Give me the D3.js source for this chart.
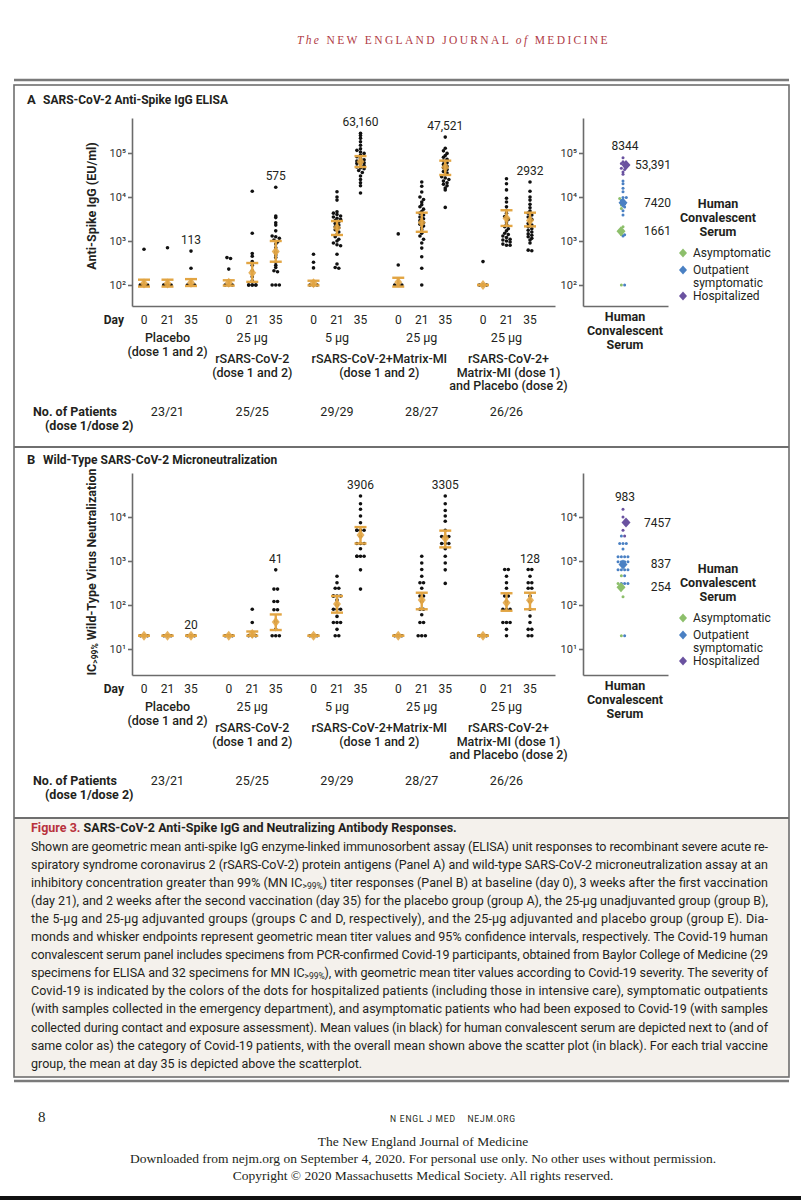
<!DOCTYPE html>
<html>
<head>
<meta charset="utf-8">
<script src="https://cdn.jsdelivr.net/npm/d3@7"></script>
<style>
  body { margin: 0; background: #fff; }
  svg { display: block; }
  text { font-family: Roboto, 'Liberation Sans', sans-serif; fill: #231f20; }
  .serif { font-family: 'Liberation Serif', 'DejaVu Serif', serif; }
  .axis path, .axis line { stroke: #6b6b6b; stroke-width: 1.6; }
  .axis text { font-size: 11px; fill: #333; font-family: Roboto, 'Liberation Sans', sans-serif; }
</style>
</head>
<body>
<div id="chart"></div>
<script>
// ---- data ----
var dayLabels = ["0", "21", "35"];
var doseLabels = ["", "25 \u03bcg", "5 \u03bcg", "25 \u03bcg", "25 \u03bcg"];
var patientCounts = ["23/21", "25/25", "29/29", "28/27", "26/26"];

// Panel A, anti-spike IgG (EU/ml): per group [day 0, day 21, day 35]
var elisaPlacebo = [
  [650, 100, 100, 100, 100],
  [700, 100, 100, 100, 100],
  [590, 240, 100, 100, 100]
];
var elisaRsars = [
  [420, 400, 230, 100, 100, 100],
  [13500, 1500, 520, 450, 340, 280, 210, 154, 125, 100, 100, 100, 100, 100, 100],
  [16700, 3700, 3400, 2600, 2300, 1700, 1300, 1250, 1150, 1050, 950, 850, 700, 560, 480, 420, 330, 280, 250, 210, 200, 100, 100, 100]
];
var elisaMatrix5 = [
  [500, 330, 245, 100, 100, 100],
  [13200, 10000, 8500, 4600, 4300, 4000, 3700, 3500, 3300, 3100, 2900, 2700, 2500, 2300, 2100, 2000, 1800, 1600, 1400, 1250, 1100, 1000, 900, 820, 780, 500, 300, 250, 240],
  [280000, 250000, 215000, 180000, 150000, 125000, 115000, 105000, 98000, 90000, 82000, 75000, 70000, 66000, 64000, 60000, 58000, 56000, 52000, 48000, 46000, 44000, 40000, 36000, 30000, 25000, 21000, 18000, 12300]
];
var elisaMatrix25 = [
  [1450, 285, 100, 100, 100],
  [22000, 17500, 13000, 10000, 8800, 7700, 6700, 6000, 5300, 4700, 4300, 3900, 3500, 3200, 2900, 2600, 2400, 2200, 2000, 1800, 1500, 1300, 1100, 900, 690, 440, 240, 100],
  [230000, 128000, 112000, 98000, 88000, 80000, 72000, 66000, 60000, 55000, 50000, 46000, 42000, 38000, 35000, 32000, 29000, 27000, 25000, 23000, 21000, 19500, 18000, 16000, 14500, 5800]
];
var elisaMatrixPlacebo = [
  [340, 100, 100, 100],
  [26000, 20000, 14500, 9400, 7700, 6000, 5000, 4300, 3600, 3100, 2700, 2400, 2100, 1900, 1700, 1500, 1400, 1300, 1200, 1100, 1050, 1000, 950, 850, 800, 800],
  [22000, 13500, 10000, 8500, 6800, 5700, 4800, 4300, 3900, 3500, 3100, 2800, 2500, 2300, 2100, 1900, 1750, 1600, 1450, 1350, 1250, 1150, 1050, 900, 620, 600]
];
var elisaGmt  = [[108, 108, 113], [112, 190, 575], [110, 2000, 63160], [115, 2650, 47521], [100, 3300, 2932]];
var elisaLow  = [[92, 92, 95], [97, 118, 338], [98, 1370, 48000], [92, 1620, 31700], [100, 2200, 2150]];
var elisaHigh = [[132, 132, 136], [128, 316, 1000], [125, 2840, 85000], [146, 4400, 67000], [100, 5000, 4400]];
var elisaTopLabels = ["113", "575", "63,160", "47,521", "2932"];

// Panel B, MN IC>99% titer: per group [day 0, day 21, day 35]
var mnPlacebo = [[20, 20, 20], [20, 20, 20], [20, 20, 20]];
var mnRsars = [
  [20, 20, 20],
  [80, 40, 20, 20, 20],
  [630, 230, 230, 120, 120, 78, 78, 42, 28, 20, 20, 20]
];
var mnMatrix5 = [
  [20, 20, 20],
  [450, 320, 240, 240, 160, 160, 160, 160, 130, 100, 80, 80, 80, 55, 40, 40, 40, 28, 20, 20],
  [30000, 20000, 15000, 10500, 7400, 5000, 5000, 5000, 5000, 3600, 2500, 2500, 2500, 1900, 1280, 1280, 1280, 1280, 630, 230]
];
var mnMatrix25 = [
  [20, 20, 20],
  [1280, 900, 640, 450, 320, 320, 240, 160, 160, 120, 80, 80, 60, 40, 40, 20, 20, 20],
  [30000, 20000, 14000, 10500, 8000, 5000, 3600, 3600, 3600, 2500, 2500, 2500, 1900, 1280, 900, 630, 310]
];
var mnMatrixPlacebo = [
  [20, 20, 20],
  [640, 640, 450, 320, 240, 160, 160, 120, 80, 80, 80, 40, 40, 40, 28, 20],
  [640, 640, 450, 320, 320, 240, 240, 160, 120, 80, 56, 40, 28, 28, 20, 20]
];
var mnGmt  = [[20, 20, 20], [20, 22, 41], [20, 105, 3906], [20, 130, 3305], [20, 112, 128]];
var mnLow  = [[20, 20, 20], [20, 20, 27], [20, 67, 2500], [20, 80, 2040], [20, 74, 80]];
var mnHigh = [[20, 20, 20], [20, 25, 61], [20, 160, 5900], [20, 190, 4900], [20, 185, 190]];
var mnTopLabels = ["20", "41", "3906", "3305", "128"];

// Human convalescent serum
var severityLabels = ["Asymptomatic", "Outpatient symptomatic", "Hospitalized"];
var severityColors = ["#8dbf6b", "#4a80c3", "#6a52a0"];
var convElisaAsym = [9300, 6600, 5500, 2100, 1400, 100];
var convElisaOut  = [23000, 20000, 15800, 13200, 9800, 9800, 8300, 7400, 6900, 5900, 4900, 3900, 1380, 1300, 100];
var convElisaHosp = [78000, 63000, 58000, 50000, 45000, 42000, 37000, 33000];
var convElisaMeans = [1661, 7420, 53391];
var convElisaOverall = 8344;
var convMnAsym = [460, 310, 250, 155, 20];
var convMnOut  = [3700, 2500, 2500, 2500, 1870, 1250, 1250, 1250, 1250, 960, 960, 960, 960, 800, 630, 630, 630, 630, 460, 310, 310, 310, 20];
var convMnHosp = [15000, 10000, 5000, 3700];
var convMnMeans = [254, 837, 7457];
var convMnOverall = 983;

var captionLines = [
  "Shown are geometric mean anti-spike IgG enzyme-linked immunosorbent assay (ELISA) unit responses to recombinant severe acute re-",
  "spiratory syndrome coronavirus 2 (rSARS-CoV-2) protein antigens (Panel A) and wild-type SARS-CoV-2 microneutralization assay at an",
  ["inhibitory concentration greater than 99% (MN IC", ">99%", ") titer responses (Panel B) at baseline (day 0), 3 weeks after the first vaccination"],
  "(day 21), and 2 weeks after the second vaccination (day 35) for the placebo group (group A), the 25-\u03bcg unadjuvanted group (group B),",
  "the 5-\u03bcg and 25-\u03bcg adjuvanted groups (groups C and D, respectively), and the 25-\u03bcg adjuvanted and placebo group (group E). Dia-",
  "monds and whisker endpoints represent geometric mean titer values and 95% confidence intervals, respectively. The Covid-19 human",
  "convalescent serum panel includes specimens from PCR-confirmed Covid-19 participants, obtained from Baylor College of Medicine (29",
  ["specimens for ELISA and 32 specimens for MN IC", ">99%", "), with geometric mean titer values according to Covid-19 severity. The severity of"],
  "Covid-19 is indicated by the colors of the dots for hospitalized patients (including those in intensive care), symptomatic outpatients",
  "(with samples collected in the emergency department), and asymptomatic patients who had been exposed to Covid-19 (with samples",
  "collected during contact and exposure assessment). Mean values (in black) for human convalescent serum are depicted next to (and of",
  "same color as) the category of Covid-19 patients, with the overall mean shown above the scatter plot (in black). For each trial vaccine",
  "group, the mean at day 35 is depicted above the scatterplot."
];

// ---- drawing ----
var svg = d3.select("#chart").append("svg").attr("width", 801).attr("height", 1200);
var orange = "#e2a543";
var frameColor = "#6f6f6f";
var sup = {1: "\u00b9", 2: "\u00b2", 3: "\u00b3", 4: "\u2074", 5: "\u2075"};

var axisX = 132, convX = 583, convDotX = 623;
var xGroup = d3.scalePoint().domain(d3.range(5)).range([144, 483]);
var xDay = d3.scalePoint().domain(dayLabels).range([0, 47]);

function diamond(cx, cy, w, h) {
  return "M" + cx + "," + (cy - h) + "L" + (cx + w) + "," + cy + "L" + cx + "," + (cy + h) + "L" + (cx - w) + "," + cy + "Z";
}

// spread equal values sideways so they do not hide each other
function spread(items, cx, y, gap, maxRow) {
  var keys = items.map(function(d) { return Math.round(y(d.v) / 3.3); });
  var count = {}, seen = {};
  keys.forEach(function(k) { count[k] = (count[k] || 0) + 1; });
  return items.map(function(d, i) {
    var k = keys[i], n = Math.min(count[k], maxRow);
    var j = seen[k] = (seen[k] === undefined ? 0 : seen[k] + 1);
    return {v: d.v, c: d.c, x: cx + ((j % n) - (n - 1) / 2) * gap, y: y(d.v)};
  });
}

function drawPanel(p) {
  var g = svg.append("g");
  var y = d3.scaleLog().domain(p.domain).range([p.bottom, p.top]);
  var fmt = function(d) { return "10" + sup[Math.round(Math.log10(d))]; };

  // title
  g.append("text").attr("x", 27).attr("y", p.titleY).attr("font-size", 13).attr("font-weight", "bold").text(p.letter);
  g.append("text").attr("x", 43).attr("y", p.titleY).attr("font-size", 12).attr("font-weight", "bold").text(p.title);

  // axes
  g.append("g").attr("class", "axis").attr("transform", "translate(" + axisX + ",0)")
    .call(d3.axisLeft(y).tickValues(p.ticks).tickFormat(fmt).tickSize(4).tickSizeOuter(0).tickPadding(2));
  g.append("g").attr("class", "axis").attr("transform", "translate(0," + p.bottom + ")")
    .call(d3.axisBottom(d3.scaleLinear().range([axisX, 555])).tickValues([]).tickSizeOuter(0));
  g.append("g").attr("class", "axis").attr("transform", "translate(" + convX + ",0)")
    .call(d3.axisLeft(y).tickValues(p.ticks).tickFormat(fmt).tickSize(4).tickSizeOuter(0).tickPadding(2));
  g.append("g").attr("class", "axis").attr("transform", "translate(0," + p.bottom + ")")
    .call(d3.axisBottom(d3.scaleLinear().range([convX, 668])).tickValues([]).tickSizeOuter(0));

  // y label
  var yl = g.append("text").attr("transform", "translate(96," + p.yLabelY + ") rotate(-90)")
    .attr("text-anchor", "middle").attr("font-size", 12.5).attr("font-weight", "bold");
  p.yLabel.forEach(function(part, i) {
    var t = yl.append("tspan").text(part);
    if (i === 1) t.attr("font-size", 8.5).attr("baseline-shift", "-25%");
  });

  // scatter columns
  p.groups.forEach(function(days, gi) {
    days.forEach(function(vals, di) {
      var cx = xGroup(gi) + xDay(dayLabels[di]);
      var pts = spread(vals.map(function(v) { return {v: v}; }), cx, y, 3.6, 3);
      g.selectAll(null).data(pts).enter().append("circle")
        .attr("cx", function(d) { return d.x; }).attr("cy", function(d) { return d.y; })
        .attr("r", 1.8).attr("fill", "#111");

      var lo = y(p.low[gi][di]), hi = y(p.high[gi][di]), m = y(p.gmt[gi][di]);
      var gm = g.append("g").attr("stroke", orange).attr("stroke-width", 2.4);
      gm.append("line").attr("x1", cx).attr("x2", cx).attr("y1", lo).attr("y2", hi);
      gm.append("line").attr("x1", cx - 6).attr("x2", cx + 6).attr("y1", lo).attr("y2", lo);
      gm.append("line").attr("x1", cx - 6).attr("x2", cx + 6).attr("y1", hi).attr("y2", hi);
      g.append("path").attr("d", diamond(cx, m, 4, 5)).attr("fill", orange).attr("fill-opacity", 0.85);

      if (di === 2) {
        g.append("text").attr("x", cx).attr("y", y(d3.max(vals)) - 7)
          .attr("text-anchor", "middle").attr("font-size", 12).attr("fill", "#333").text(p.topLabels[gi]);
      }
    });
  });

  // x labels
  var r = p.rowY;
  g.append("text").attr("x", 124).attr("y", r + 2).attr("text-anchor", "end").attr("font-size", 12).attr("font-weight", "bold").text("Day");
  d3.range(5).forEach(function(gi) {
    dayLabels.forEach(function(dl) {
      g.append("text").attr("x", xGroup(gi) + xDay(dl)).attr("y", r + 2).attr("text-anchor", "middle")
        .attr("font-size", 12).attr("fill", "#333").text(dl);
    });
    var c = xGroup(gi) + xDay("21");
    g.append("text").attr("x", c).attr("y", r + 20).attr("text-anchor", "middle").attr("font-size", 12.5).attr("fill", "#444").text(doseLabels[gi]);
    g.append("text").attr("x", c).attr("y", r + 94).attr("text-anchor", "middle").attr("font-size", 12.5).attr("fill", "#333").text(patientCounts[gi]);
  });
  var names = [
    {x: xGroup(0) + xDay("21"), y: r + 20, lines: ["Placebo", "(dose 1 and 2)"]},
    {x: xGroup(1) + xDay("21"), y: r + 41, lines: ["rSARS-CoV-2", "(dose 1 and 2)"]},
    {x: (xGroup(2) + xGroup(3)) / 2 + xDay("21"), y: r + 41, lines: ["rSARS-CoV-2+Matrix-MI", "(dose 1 and 2)"]},
    {x: xGroup(4) + xDay("21") + 2, y: r + 41, lines: ["rSARS-CoV-2+", "Matrix-MI (dose 1)", "and Placebo (dose 2)"]}
  ];
  names.forEach(function(nm) {
    nm.lines.forEach(function(l, i) {
      g.append("text").attr("x", nm.x).attr("y", nm.y + i * 13.5).attr("text-anchor", "middle")
        .attr("font-size", 12.5).attr("font-weight", 500).attr("fill", "#333").text(l);
    });
  });
  g.append("text").attr("x", 33).attr("y", r + 94).attr("font-size", 12.5).attr("font-weight", "bold").text("No. of Patients");
  g.append("text").attr("x", 45).attr("y", r + 108).attr("font-size", 12.5).attr("font-weight", "bold").text("(dose 1/dose 2)");

  // convalescent column
  var items = [];
  [p.conv[0], p.conv[1], p.conv[2]].forEach(function(arr, si) {
    arr.forEach(function(v) { items.push({v: v, c: severityColors[si]}); });
  });
  var cp = spread(items, convDotX, y, 3.3, 4);
  g.selectAll(null).data(cp).enter().append("circle")
    .attr("cx", function(d) { return d.x; }).attr("cy", function(d) { return d.y; })
    .attr("r", 1.5).attr("fill", function(d) { return d.c; });
  var mx = [convDotX - 2, convDotX, convDotX + 3];
  p.convMeans.forEach(function(mv, si) {
    g.append("path").attr("d", diamond(mx[si], y(mv), 4.5, 5)).attr("fill", severityColors[si]);
    g.append("text").attr("x", 671).attr("y", y(mv) + 4).attr("text-anchor", "end")
      .attr("font-size", 12).attr("fill", "#333").text(d3.format(mv >= 10000 ? ",d" : "d")(mv));
  });
  var allConv = p.conv[0].concat(p.conv[1], p.conv[2]);
  g.append("text").attr("x", convDotX + 2).attr("y", y(d3.max(allConv)) - 8).attr("text-anchor", "middle")
    .attr("font-size", 12).attr("fill", "#333").text(d3.format("d")(p.convOverall));
  ["Human", "Convalescent", "Serum"].forEach(function(l, i) {
    g.append("text").attr("x", 625).attr("y", r - 1 + i * 14).attr("text-anchor", "middle")
      .attr("font-size", 12.5).attr("font-weight", "bold").text(l);
  });

  // legend
  var ly = p.legendY;
  ["Human", "Convalescent", "Serum"].forEach(function(l, i) {
    g.append("text").attr("x", 718).attr("y", ly + i * 14).attr("text-anchor", "middle")
      .attr("font-size", 12.5).attr("font-weight", "bold").text(l);
  });
  var legendRows = [ly + 49, ly + 66, ly + 92];
  severityLabels.forEach(function(s, si) {
    g.append("path").attr("d", diamond(683, legendRows[si] - 4, 4, 4.5)).attr("fill", severityColors[si]);
    var words = s === "Outpatient symptomatic" ? ["Outpatient", "symptomatic"] : [s];
    words.forEach(function(w, wi) {
      g.append("text").attr("x", 693).attr("y", legendRows[si] + wi * 13).attr("font-size", 12).attr("fill", "#444").text(w);
    });
  });
}

// frame
var fx0 = 14, fx1 = 789;
svg.append("line").attr("x1", fx0).attr("x2", fx1).attr("y1", 80).attr("y2", 80).attr("stroke", "#7a7a7a").attr("stroke-width", 2.5);
svg.append("rect").attr("x", fx0).attr("y", 818).attr("width", fx1 - fx0).attr("height", 259).attr("fill", "#f4f1ec");
svg.append("rect").attr("x", fx0).attr("y", 85).attr("width", fx1 - fx0).attr("height", 992)
  .attr("fill", "none").attr("stroke", frameColor).attr("stroke-width", 1.6);
svg.append("line").attr("x1", fx0).attr("x2", fx1).attr("y1", 447).attr("y2", 447).attr("stroke", frameColor).attr("stroke-width", 2.2);
svg.append("line").attr("x1", fx0).attr("x2", fx1).attr("y1", 818).attr("y2", 818).attr("stroke", frameColor).attr("stroke-width", 2.2);
svg.append("line").attr("x1", fx0).attr("x2", fx1).attr("y1", 1081).attr("y2", 1081).attr("stroke", "#7a7a7a").attr("stroke-width", 2.5);

drawPanel({
  letter: "A", title: "SARS-CoV-2 Anti-Spike IgG ELISA", titleY: 104,
  top: 118, bottom: 306, domain: [Math.pow(10, 2 - 21 / 44), Math.pow(10, 2 + 167 / 44)],
  ticks: [1e2, 1e3, 1e4, 1e5], yLabel: ["Anti-Spike IgG (EU/ml)"], yLabelY: 206,
  groups: [elisaPlacebo, elisaRsars, elisaMatrix5, elisaMatrix25, elisaMatrixPlacebo],
  gmt: elisaGmt, low: elisaLow, high: elisaHigh, topLabels: elisaTopLabels,
  conv: [convElisaAsym, convElisaOut, convElisaHosp], convMeans: convElisaMeans, convOverall: convElisaOverall,
  rowY: 322, legendY: 208
});

drawPanel({
  letter: "B", title: "Wild-Type SARS-CoV-2 Microneutralization", titleY: 464,
  top: 473, bottom: 675, domain: [Math.pow(10, 1 - 26 / 44), Math.pow(10, 1 + 176 / 44)],
  ticks: [1e1, 1e2, 1e3, 1e4], yLabel: ["IC", ">99%", " Wild-Type Virus Neutralization"], yLabelY: 572,
  groups: [mnPlacebo, mnRsars, mnMatrix5, mnMatrix25, mnMatrixPlacebo],
  gmt: mnGmt, low: mnLow, high: mnHigh, topLabels: mnTopLabels,
  conv: [convMnAsym, convMnOut, convMnHosp], convMeans: convMnMeans, convOverall: convMnOverall,
  rowY: 691, legendY: 573
});

// caption
var cap = svg.append("text").attr("x", 31).attr("y", 832).attr("font-size", 12.5).attr("font-weight", "bold");
cap.append("tspan").attr("fill", "#b8323c").text("Figure 3.");
cap.append("tspan").text(" SARS-CoV-2 Anti-Spike IgG and Neutralizing Antibody Responses.");
captionLines.forEach(function(line, i) {
  var t = svg.append("text").attr("x", 31).attr("y", 850.5 + i * 18.1).attr("font-size", 12.5).attr("fill", "#333");
  var parts = typeof line === "string" ? [line] : line;
  parts.forEach(function(part, pi) {
    var s = t.append("tspan").text(part);
    if (pi === 1) s.attr("font-size", 8.5).attr("baseline-shift", "-25%");
  });
  if (i < captionLines.length - 1) t.attr("textLength", 737).attr("lengthAdjust", "spacing");
});

// running head
var head = svg.append("text").attr("class", "serif").attr("x", 453).attr("y", 44).attr("text-anchor", "middle")
  .attr("font-size", 11.5).attr("letter-spacing", 1.5).attr("textLength", 312).attr("lengthAdjust", "spacing");
head.append("tspan").attr("font-style", "italic").attr("fill", "#b03a45").text("The ");
head.append("tspan").attr("fill", "#b03a45").text("NEW ENGLAND JOURNAL ");
head.append("tspan").attr("font-style", "italic").attr("fill", "#b03a45").text("of ");
head.append("tspan").attr("fill", "#b03a45").text("MEDICINE");

// footer
svg.append("text").attr("class", "serif").attr("x", 38).attr("y", 1122).attr("font-size", 15).text("8");
svg.append("text").attr("x", 453).attr("y", 1122).attr("text-anchor", "middle").attr("font-size", 8.5)
  .attr("letter-spacing", 0.8).attr("fill", "#333").attr("xml:space", "preserve").text("N ENGL J MED    NEJM.ORG");
var foot = ["The New England Journal of Medicine",
  "Downloaded from nejm.org on September 4, 2020. For personal use only. No other uses without permission.",
  "Copyright \u00a9 2020 Massachusetts Medical Society. All rights reserved."];
foot.forEach(function(l, i) {
  svg.append("text").attr("class", "serif").attr("x", 423).attr("y", 1146 + i * 17).attr("text-anchor", "middle")
    .attr("font-size", 13.5).text(l);
});
svg.append("rect").attr("x", 0).attr("y", 1196).attr("width", 801).attr("height", 4).attr("fill", "#111");
</script>
</body>
</html>
